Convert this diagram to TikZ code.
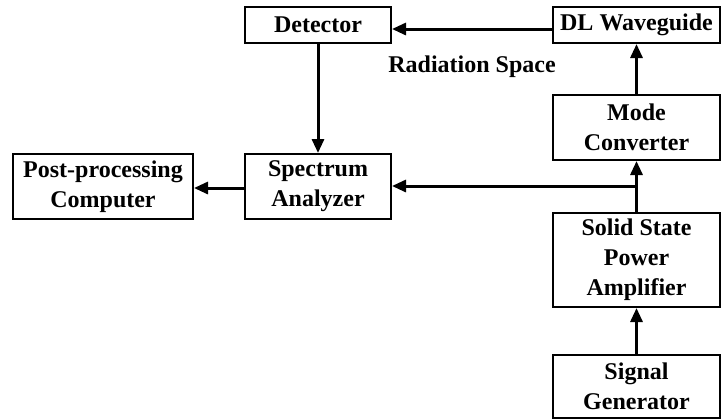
\documentclass[tikz,border=0pt]{standalone}
\usepackage{fontspec}
\setmainfont{Liberation Serif}
\usetikzlibrary{arrows.meta}
\begin{document}
\begin{tikzpicture}[x=0.5pt,y=-0.5pt,
  blk/.style={draw=black,line width=1pt,inner sep=0pt,align=center,
    font=\fontsize{12}{15}\selectfont\bfseries},
  conn/.style={line width=1.5pt,-{Triangle[length=7pt,width=6pt]}}]
\useasboundingbox (0,0) rectangle (722,419);
\node[blk,minimum width=73pt,minimum height=18pt] (det) at (318,25) {Detector};
\node[blk,minimum width=83.5pt,minimum height=18pt] (dl) at (636.5,25) {DL Waveguide};
\node[blk,minimum width=83.5pt,minimum height=32.5pt] (mc) at (636.5,127.5) {Mode\\Converter};
\node[blk,minimum width=83.5pt,minimum height=47pt] (ssa) at (636.5,260) {Solid State\\Power\\Amplifier};
\node[blk,minimum width=83.5pt,minimum height=31.5pt] (sg) at (636.5,386.5) {Signal\\Generator};
\node[blk,minimum width=90pt,minimum height=32.5pt] (pp) at (103,186.5) {Post-processing\\Computer};
\node[blk,minimum width=73pt,minimum height=32.5pt] (sa) at (318,186.5) {Spectrum\\Analyzer};
\draw[conn] ([yshift=-2pt]dl.west) -- node[pos=0.5,yshift=-19pt,font=\fontsize{12}{15}\selectfont\bfseries] (rad) {Radiation Space} ([yshift=-2pt]det.east);
\draw[conn] (det.south) -- (sa.north);
\draw[conn] (sa.west |- 0,188) -- (pp.east |- 0,188);
\draw[conn] (sg.north) -- (ssa.south);
\draw[conn] (ssa.north) -- (mc.south);
\draw[conn] (mc.north) -- (dl.south);
\coordinate (jn) at (ssa.north |- 0,186);
\draw[conn] (jn) -- (sa.east |- jn);
\end{tikzpicture}
\end{document}
